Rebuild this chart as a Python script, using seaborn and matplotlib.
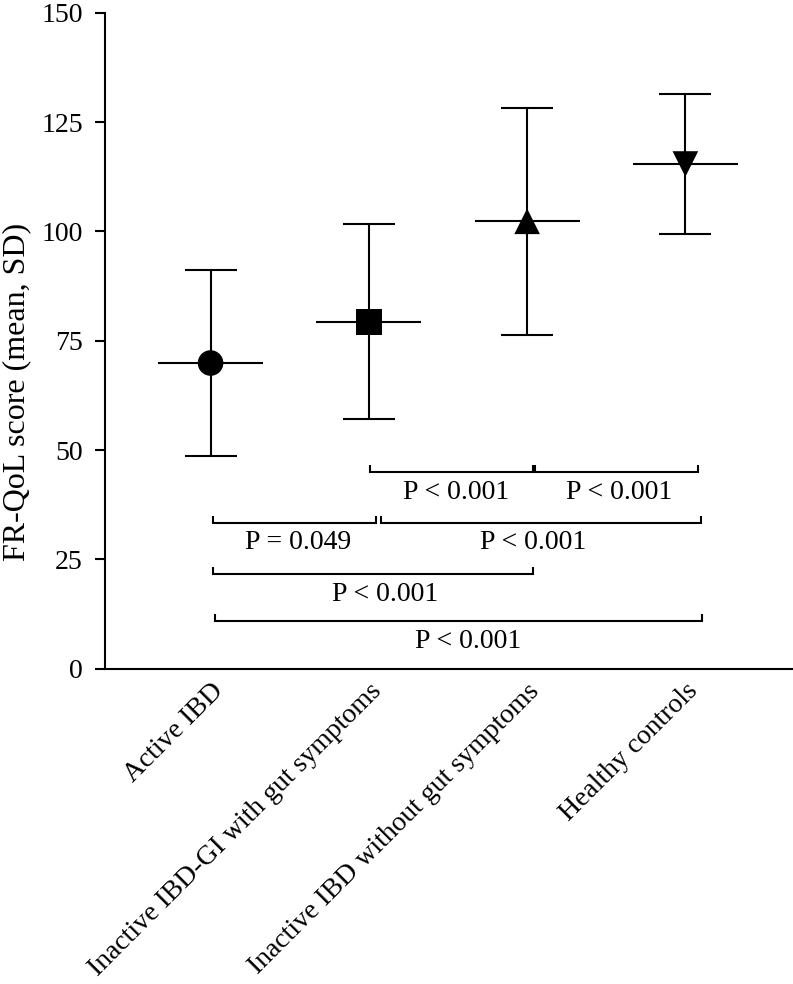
"""FR-QoL score by IBD group: mean with SD bars and pairwise P values."""

import matplotlib

matplotlib.use("Agg")
import matplotlib.pyplot as plt
import numpy as np
import pandas as pd
import seaborn as sns

# groups and summary values
groups = [
    "Active IBD",
    "Inactive IBD-GI with gut symptoms",
    "Inactive IBD without gut symptoms",
    "Healthy controls",
]
means = [69.9, 79.3, 102.3, 115.4]
sds = [21.2, 22.3, 26.0, 16.0]
group_markers = ["o", "s", "^", "v"]

# pairwise comparisons (group index pairs) and their P labels
comp_pairs = [(1, 2), (2, 3), (0, 1), (1, 3), (0, 2), (0, 3)]
comp_labels = ["P < 0.001", "P < 0.001", "P = 0.049", "P < 0.001", "P < 0.001", "P < 0.001"]

# layout for the brackets (not data): row height, end insets, label nudges
bracket_rows = [45.0, 45.0, 33.4, 33.4, 21.6, 10.9]
left_inset = [0.01, 0.05, 0.016, 0.076, 0.013, 0.027]
right_inset = [0.04, 0.08, 0.044, 0.10, 0.04, 0.105]
label_nudge = [2.9, 2.2, 2.5, -5.5, 8.6, 7.2]

sns.set_theme(style="ticks")
plt.rcParams["font.family"] = ["Liberation Serif", "DejaVu Serif"]
plt.rcParams["axes.linewidth"] = 1.5
for key in ("text.color", "axes.labelcolor", "xtick.color", "ytick.color", "axes.edgecolor"):
    plt.rcParams[key] = "black"

df = pd.DataFrame({"group": groups, "mean": means, "sd": sds})
df["pos"] = np.arange(len(groups))

fig = plt.figure(figsize=(7.93, 9.84), dpi=100)
ax = fig.add_axes([0.1328, 0.3204, 0.8672, 0.6667])

# SD whiskers with caps, then the wide mean bar, then the markers on top
ax.errorbar(df["pos"], df["mean"], yerr=df["sd"], fmt="none", ecolor="black",
            elinewidth=1.5, capsize=18.7, capthick=1.5, zorder=2)
ax.hlines(df["mean"], df["pos"] - 0.332, df["pos"] + 0.332, color="black", lw=1.5, zorder=2)
sns.scatterplot(data=df, x="pos", y="mean", style="group",
                markers=dict(zip(groups, group_markers)), s=340, color="black",
                edgecolor="none", linewidth=0, legend=False, ax=ax, zorder=3)

# significance brackets, ticks pointing up, label underneath
tick_h = 1.6
for k, ((i, j), lab) in enumerate(zip(comp_pairs, comp_labels)):
    y = bracket_rows[k]
    x1 = i + left_inset[k]
    x2 = j + right_inset[k]
    ax.plot([x1, x1, x2, x2], [y + tick_h, y, y, y + tick_h], color="black", lw=1.5,
            solid_joinstyle="miter", solid_capstyle="butt", zorder=2)
    ax.annotate(lab, ((x1 + x2) / 2, y), xytext=(label_nudge[k], -19.2),
                textcoords="offset points", ha="center", va="baseline", fontsize=20)

ax.set_xlim(-0.665, 3.68)
ax.set_ylim(0, 150)
ax.set_yticks(np.arange(0, 151, 25))
ax.set_xticks(df["pos"], groups)
ax.set_xlabel("")
ax.set_ylabel("FR-QoL score (mean, SD)", fontsize=23)
ax.yaxis.label.set_va("center")
ax.yaxis.set_label_coords(-0.1284, 0.4226)

ax.tick_params(axis="y", length=7.2, width=1.5, pad=9, labelsize=20, color="black")
ax.tick_params(axis="x", length=0, pad=7, labelsize=20)
for lab in ax.get_xticklabels():
    lab.set_rotation(45)
    lab.set_ha("right")
    lab.set_rotation_mode("anchor")

sns.despine(ax=ax)

fig.savefig("out.png", dpi=100, facecolor="white")
plt.close(fig)
